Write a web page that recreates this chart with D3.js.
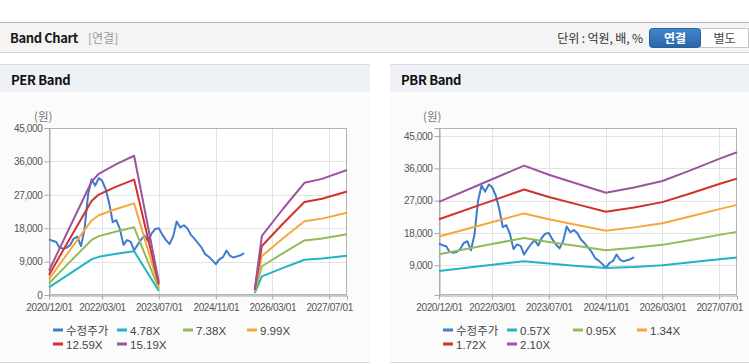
<!DOCTYPE html>
<html><head><meta charset="utf-8">
<script src="https://cdn.jsdelivr.net/npm/d3@7"></script>
<style>
html,body{margin:0;padding:0;background:#fff;}
svg{display:block;font-family:"Liberation Sans",Arial,"Noto Sans CJK KR",sans-serif;}
</style></head>
<body><svg id="c" width="749" height="364"></svg>
<script>
// ---------- DATA ----------
const xTickLabels = ["2020/12/01","2022/03/01","2023/07/01","2024/11/01","2026/03/01","2027/07/01"];
const perYTicks = [0, 9000, 18000, 27000, 36000, 45000];
const pbrYTicks = [9000, 18000, 27000, 36000, 45000];

const priceName = "수정주가";
const priceDates = ["2020-12-01","2021-01-01","2021-02-01","2021-03-01","2021-04-01","2021-05-01","2021-06-01","2021-07-01","2021-08-01","2021-09-01","2021-10-01","2021-11-01",
 "2021-12-01","2022-01-01","2022-02-01","2022-03-01","2022-04-01","2022-05-01","2022-06-01","2022-07-01","2022-08-01","2022-09-01","2022-10-01","2022-11-01",
 "2022-12-01","2023-01-01","2023-02-01","2023-03-01","2023-04-01","2023-05-01","2023-06-01","2023-07-01","2023-08-01","2023-09-01","2023-10-01","2023-11-01",
 "2023-12-01","2024-01-01","2024-02-01","2024-03-01","2024-04-01","2024-05-01","2024-06-01","2024-07-01","2024-08-01","2024-09-01","2024-10-01","2024-11-01",
 "2024-12-01","2025-01-01","2025-02-01","2025-03-01","2025-04-01","2025-05-01","2025-06-01","2025-07-01"];
const priceValues = [15000,14600,14300,12800,12500,12700,13500,15200,15700,13200,17500,27000,
 31200,29500,31500,30800,28500,24800,19600,20200,17800,13500,14800,14400,
 12000,13600,15000,16000,14500,16600,17800,18000,16200,14800,13700,15800,
 19800,18200,18800,18000,16200,15200,14000,12800,11000,10300,9400,8300,
 9600,10200,12000,10600,10100,10400,10700,11300];

const perNames = ["4.78X","7.38X","9.99X","12.59X","15.19X"];
const perDates = ["2020-12-01","2021-06-01","2021-12-01","2022-02-01","2022-07-01","2022-12-01","2023-07-01","2024-08-01","2025-10-01","2025-12-01","2026-06-01","2026-12-01","2027-05-01","2027-12-01"];
const per478  = [2060, 5830, 9610, 10280, 11090, 11810, 1100, null, 530, 5020, 7310, 9510, 9850, 10600];
const per738  = [3170, 9000, 14830, 15870, 17120, 18230, 1700, null, 810, 7750, 11290, 14690, 15200, 16360];
const per999  = [4300, 12190, 20080, 21480, 23180, 24680, 2300, null, 1100, 10490, 15290, 19880, 20580, 22150];
const per1259 = [5410, 15360, 25310, 27070, 29210, 31100, 2900, null, 1390, 13220, 19260, 25050, 25940, 27910];
const per1519 = [6530, 18530, 30530, 32660, 35240, 37520, 3490, null, 1670, 15950, 23240, 30230, 31290, 33680];

const pbrNames = ["0.57X","0.95X","1.34X","1.72X","2.10X"];
const pbrDates = ["2020-12-01","2021-12-01","2022-12-01","2023-07-01","2024-03-01","2024-11-01","2025-07-01","2026-03-01","2026-11-01","2027-07-01","2027-12-01"];
const pbr057 = [7400, 8800, 10150, 9500, 8800, 8250, 8500, 9000, 9850, 10700, 11150];
const pbr095 = [12070, 14350, 16630, 15490, 14350, 13210, 13870, 14690, 16060, 17470, 18310];
const pbr134 = [17020, 20230, 23450, 21840, 20230, 18630, 19560, 20720, 22650, 24640, 25820];
const pbr172 = [21840, 25970, 30100, 28040, 25970, 23910, 25110, 26590, 29070, 31630, 33140];
const pbr210 = [26670, 31710, 36750, 34230, 31710, 29190, 30660, 32470, 35490, 38620, 40470];

const colors = ["#3f7bcb","#22b3c4","#92bc57","#f5a73a","#d0312d","#9c54a0"];

// ---------- DRAW ----------
const svg = d3.select("#c");
const parse = d3.timeParse("%Y-%m-%d");
const fmtTick = d3.timeFormat("%Y/%m/%d");
const KR = "'Noto Sans CJK KR',sans-serif";

// header bar
svg.append("rect").attr("x",0).attr("y",22).attr("width",749).attr("height",30).attr("fill","#f4f4f4");
svg.append("line").attr("x1",0).attr("x2",749).attr("y1",22.5).attr("y2",22.5).attr("stroke","#b8b8b8");
svg.append("line").attr("x1",0).attr("x2",749).attr("y1",52.5).attr("y2",52.5).attr("stroke","#d4d4d4");
svg.append("text").attr("x",10).attr("y",42.5).attr("font-size",13).attr("font-weight","bold").attr("fill","#1a1a1a")
  .attr("font-family",KR).attr("letter-spacing",-0.4).text("Band Chart");
svg.append("text").attr("x",88).attr("y",42.5).attr("font-size",12).attr("fill","#999")
  .attr("font-family",KR).text("[연결]");
svg.append("text").attr("x",643).attr("y",42.5).attr("font-size",12).attr("fill","#333").attr("text-anchor","end")
  .attr("font-family",KR).attr("letter-spacing",-0.1).text("단위 : 억원, 배, %");
const grad = svg.append("defs").append("linearGradient").attr("id","bg").attr("x1",0).attr("x2",0).attr("y1",0).attr("y2",1);
grad.append("stop").attr("offset","0%").attr("stop-color","#4386cc");
grad.append("stop").attr("offset","100%").attr("stop-color","#2a64a8");
svg.append("rect").attr("x",700.5).attr("y",28.5).attr("width",48).attr("height",19).attr("fill","#fff").attr("stroke","#c6c6c6");
svg.append("rect").attr("x",649.5).attr("y",28.5).attr("width",51).attr("height",19).attr("rx",3).attr("fill","url(#bg)").attr("stroke","#2a5f9e");
svg.append("text").attr("x",675).attr("y",42.5).attr("font-size",12).attr("font-weight","bold").attr("fill","#fff").attr("text-anchor","middle")
  .attr("font-family",KR).text("연결");
svg.append("text").attr("x",724.5).attr("y",42.5).attr("font-size",12).attr("fill","#444").attr("text-anchor","middle")
  .attr("font-family",KR).text("별도");

function panel(cfg) {
  const g = svg.append("g");
  g.append("rect").attr("x",cfg.px).attr("y",64).attr("width",cfg.pw).attr("height",28).attr("fill","#eef2f7");
  g.append("line").attr("x1",cfg.px).attr("x2",cfg.px+cfg.pw).attr("y1",64.5).attr("y2",64.5).attr("stroke","#dcdcdc");
  g.append("rect").attr("x",cfg.px).attr("y",92).attr("width",cfg.pw).attr("height",270).attr("fill","#fbfbfb");
  g.append("line").attr("x1",cfg.px).attr("x2",cfg.px+cfg.pw).attr("y1",362.5).attr("y2",362.5).attr("stroke","#dadada");
  g.append("text").attr("x",cfg.px+11).attr("y",84.5).attr("font-size",13).attr("font-weight","bold").attr("fill","#111")
    .attr("font-family",KR).attr("letter-spacing",-0.3).text(cfg.title);
  g.append("text").attr("x",cfg.unitX).attr("y",121).attr("font-size",11.5).attr("fill","#777")
    .attr("font-family",KR).text("(원)");

  const x = d3.scaleTime().domain([parse("2020-12-01"), parse("2027-12-01")]).range([cfg.x0, cfg.x1]);
  const y = d3.scaleLinear().domain(cfg.yDomain).range([295, 128]);
  const xTicks = xTickLabels.map(s => d3.timeParse("%Y/%m/%d")(s));

  g.append("rect").attr("x",cfg.x0).attr("y",128).attr("width",cfg.x1-cfg.x0).attr("height",167).attr("fill","#fff");
  // grid
  g.append("g").selectAll("line").data(xTicks).join("line")
    .attr("x1",d=>Math.round(x(d))+0.5).attr("x2",d=>Math.round(x(d))+0.5).attr("y1",128).attr("y2",295).attr("stroke","#e3e3e3");
  g.append("g").selectAll("line").data(cfg.yTicks).join("line")
    .attr("x1",cfg.x0).attr("x2",cfg.x1).attr("y1",d=>Math.round(y(d))+0.5).attr("y2",d=>Math.round(y(d))+0.5).attr("stroke","#e3e3e3");
  g.append("rect").attr("x",cfg.x0+0.5).attr("y",128.5).attr("width",cfg.x1-cfg.x0-1).attr("height",166).attr("fill","none").attr("stroke","#b4b4b4");

  // axes
  const ya = d3.axisLeft(y).tickValues(cfg.yTicks).tickFormat(d3.format(",")).tickSize(5).tickPadding(2);
  const yg = g.append("g").attr("transform",`translate(${cfg.x0+0.5},0)`).call(ya);
  const xa = d3.axisBottom(x).tickValues(xTicks).tickFormat(fmtTick).tickSize(4).tickPadding(4);
  const xg = g.append("g").attr("transform",`translate(0,295.5)`).call(xa);
  [yg,xg].forEach(a=>{
    a.select(".domain").attr("stroke","#a8a8a8");
    a.selectAll(".tick line").attr("stroke","#a8a8a8");
    a.selectAll(".tick text").attr("fill","#555").attr("font-size",10).attr("letter-spacing",-0.35)
      .attr("font-family","'Liberation Sans',Arial,sans-serif");
  });

  const line = d3.line().defined(d=>d.v!==null).x(d=>x(d.d)).y(d=>y(d.v));
  const plot = g.append("g");
  const price = priceDates.map((s,i)=>({d:parse(s), v:priceValues[i]}));
  plot.append("path").datum(price).attr("d",line).attr("fill","none").attr("stroke",colors[0]).attr("stroke-width",2).attr("stroke-linejoin","round");
  cfg.series.forEach((vals,k)=>{
    const pts = cfg.dates.map((s,i)=>({d:parse(s), v:vals[i]}));
    plot.append("path").datum(pts).attr("d",line).attr("fill","none").attr("stroke",colors[k+1]).attr("stroke-width",2).attr("stroke-linejoin","round");
  });

  // legend
  const names = [priceName].concat(cfg.names);
  const cols = [0,64,130,194];
  names.forEach((n,i)=>{
    const lx = cfg.x0 + 4 + cols[i%4];
    const ly = i<4 ? 330 : 344;
    g.append("line").attr("x1",lx).attr("x2",lx+10).attr("y1",ly).attr("y2",ly).attr("stroke",colors[i]).attr("stroke-width",3);
    g.append("text").attr("x",lx+13).attr("y",ly+4.5).attr("font-size",11.5).attr("fill","#444")
      .attr("font-family","'Liberation Sans',Arial,'Noto Sans CJK KR',sans-serif").text(n);
  });
}

panel({title:"PER Band", px:0, pw:370, unitX:34, x0:49, x1:347, yDomain:[0,45000], yTicks:perYTicks,
  names:perNames, dates:perDates, series:[per478,per738,per999,per1259,per1519]});
panel({title:"PBR Band", px:390, pw:359, unitX:423, x0:439, x1:737, yDomain:[730,47230], yTicks:pbrYTicks,
  names:pbrNames, dates:pbrDates, series:[pbr057,pbr095,pbr134,pbr172,pbr210]});
</script></body></html>
